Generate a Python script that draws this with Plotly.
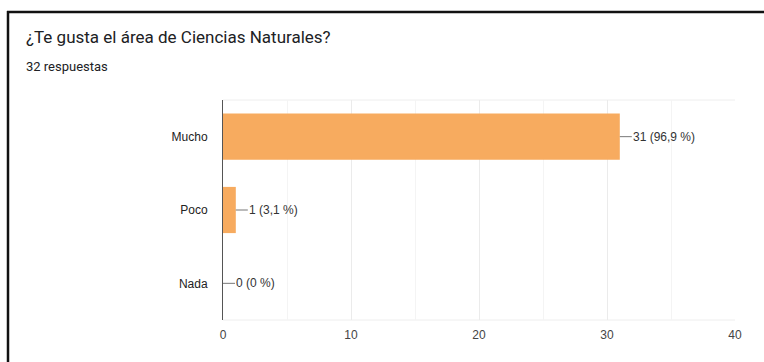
import plotly.graph_objects as go

categories = ["Mucho", "Poco", "Nada"]
counts = [31, 1, 0]
percent_labels = ["96,9 %", "3,1 %", "0 %"]
x_ticks = [0, 10, 20, 30, 40]

title_text = "¿Te gusta el área de Ciencias Naturales?"
subtitle_text = "32 respuestas"

W, H = 764, 362
L, R, T, B = 223, 29, 100, 42
pw, ph = W - L - R, H - T - B

CHART_FONT = "Arial, 'Liberation Sans', sans-serif"
HEAD_FONT = "Roboto, Arial, sans-serif"

def px_x(p):
    return (p - L) / pw

def px_y(p):
    return (H - B - p) / ph

fig = go.Figure()
fig.add_trace(go.Bar(
    y=categories, x=counts, orientation="h",
    marker=dict(color="#F7AB5F", line=dict(width=0)),
    hoverinfo="skip",
))

for c, v, p in zip(categories, counts, percent_labels):
    fig.add_annotation(
        x=v, y=c, xref="x", yref="y",
        text=f"{v} ({p})", showarrow=True, arrowhead=0, arrowwidth=1,
        arrowcolor="#777777", ax=12, ay=0, xanchor="left",
        standoff=0, startstandoff=0, borderpad=0,
        font=dict(family=CHART_FONT, size=12, color="#333333"),
    )

fig.add_annotation(x=px_x(24), y=px_y(37), xref="paper", yref="paper",
                   text=title_text, showarrow=False, xanchor="left", yanchor="middle",
                   font=dict(family=HEAD_FONT, size=17, color="#202124"))
fig.add_annotation(x=px_x(24), y=px_y(66), xref="paper", yref="paper",
                   text=subtitle_text, showarrow=False, xanchor="left", yanchor="middle",
                   font=dict(family=HEAD_FONT, size=13, color="#202124"))

# outer frame
fig.add_shape(type="line", xref="paper", yref="paper",
              x0=px_x(8), x1=px_x(8), y0=px_y(11), y1=px_y(H + 5),
              line=dict(color="#111111", width=2.5))
fig.add_shape(type="line", xref="paper", yref="paper",
              x0=px_x(7), x1=px_x(W + 5), y0=px_y(12), y1=px_y(12),
              line=dict(color="#111111", width=2.5))
# plot top and bottom light border
fig.add_shape(type="line", xref="paper", yref="paper", x0=0, x1=1, y0=1, y1=1,
              line=dict(color="#eeeeee", width=1), layer="below")
fig.add_shape(type="line", xref="paper", yref="paper", x0=0, x1=1, y0=0, y1=0,
              line=dict(color="#eeeeee", width=1), layer="below")

fig.update_layout(
    width=W, height=H,
    margin=dict(l=L, r=R, t=T, b=B),
    paper_bgcolor="white", plot_bgcolor="white",
    showlegend=False, bargap=0.37,
    font=dict(family=CHART_FONT, size=12, color="#444444"),
    xaxis=dict(range=[0, 40], tickvals=x_ticks, ticktext=[str(t) for t in x_ticks],
               showgrid=True, gridcolor="#ebebeb", gridwidth=1, zeroline=False,
               minor=dict(dtick=5, showgrid=True, gridcolor="#f4f4f4"),
               showline=False, ticks="", ticklabelstandoff=6,
               tickfont=dict(size=12, color="#444444"), fixedrange=True),
    yaxis=dict(autorange="reversed", showline=True, linecolor="#555555", linewidth=1,
               showgrid=False, ticks="", ticklabelstandoff=12,
               tickfont=dict(size=12, color="#222222"), fixedrange=True),
)

fig.write_html("out.html")
